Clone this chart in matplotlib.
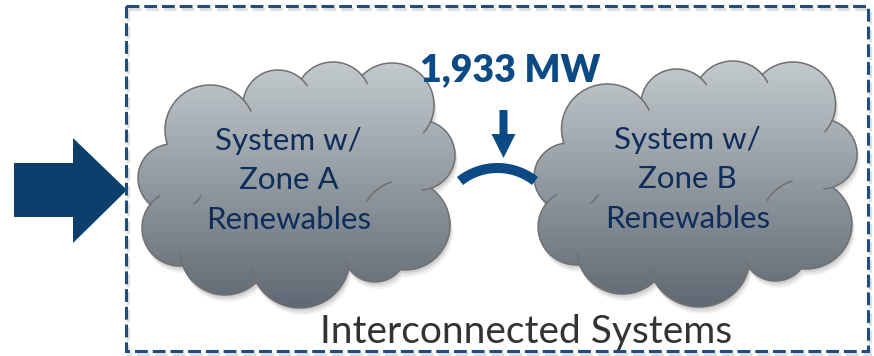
import numpy as np
import matplotlib.pyplot as plt
from matplotlib.patches import Polygon, Rectangle
from matplotlib.colors import to_rgb

# diagram content
flow_mw = 1933
zone_names = ["A", "B"]
cloud_labels = [f"System w/\nZone {z}\nRenewables" for z in zone_names]
frame_label = "Interconnected Systems"

NAVY = "#0c3f6c"
BLUE = "#0b4a85"
TEXT_NAVY = "#0f2d5a"
FONT = "Lato"

# cloud bumps in local pixel units (y down): cx, cy, r, inner stub (deg, <0 = at start)
BUMPS = [
    (72, 68, 45, 18),
    (140, 43, 35, 15),
    (195, 38, 38, 15),
    (254, 43, 42, 18),
    (282, 93, 35, 15),
    (267, 163, 45, -40),
    (237, 188, 32, 15),
    (162, 196, 50, 18),
    (87, 188, 45, 15),
    (42, 166, 38, 20),
    (34, 116, 34, 18),
]
CORE = (158, 123, 95)
BASE_W, BASE_H = 317, 246


def cloud_outline(n=1440):
    cx, cy, _ = CORE
    circles = [b[:3] for b in BUMPS] + [CORE]
    th = np.linspace(0, 2 * np.pi, n, endpoint=False)
    d = np.column_stack([np.cos(th), np.sin(th)])
    best = np.zeros(n)
    for x, y, r in circles:
        p = np.array([x - cx, y - cy])
        b = d @ p
        disc = b ** 2 - p @ p + r ** 2
        t = np.where(disc >= 0, b + np.sqrt(np.clip(disc, 0, None)), 0)
        best = np.maximum(best, t)
    return cx + best * d[:, 0], cy + best * d[:, 1]


def cloud_stubs():
    circles = [b[:3] for b in BUMPS] + [CORE]
    out = []
    a = np.arange(360)
    for i, (x, y, r, ext) in enumerate(BUMPS):
        px = x + r * np.cos(np.radians(a))
        py = y + r * np.sin(np.radians(a))
        inside = np.zeros(360, bool)
        for j, (x2, y2, r2) in enumerate(circles):
            if j != i:
                inside |= (px - x2) ** 2 + (py - y2) ** 2 < r2 ** 2
        vis = ~inside
        if ext > 0:
            ks = [k for k in range(360) if vis[k] and not vis[(k + 1) % 360]]
            if not ks:
                continue
            ang = np.radians(np.linspace(ks[0], ks[0] + ext, 30))
        else:
            ks = [k for k in range(360) if vis[k] and not vis[(k - 1) % 360]]
            if not ks:
                continue
            ang = np.radians(np.linspace(ks[0] + ext, ks[0], 30))
        out.append((x + r * np.cos(ang), y + r * np.sin(ang)))
    return out


def draw_cloud(ax, x0, y0, w, h, label):
    sx, sy = w / BASE_W, h / BASE_H
    ox, oy = cloud_outline()
    pts = np.column_stack([x0 + ox * sx, y0 + oy * sy])

    # soft drop shadow
    for k, a in [(7, 0.05), (5, 0.06), (3, 0.08)]:
        ax.add_patch(Polygon(pts + [k * 0.4, k], closed=True, fc="k", ec="none",
                             alpha=a, zorder=1))

    body = Polygon(pts, closed=True, fc="none", ec="#707070", lw=1.1, zorder=3)
    ax.add_patch(body)

    top, bot = np.array(to_rgb("#c3cace")), np.array(to_rgb("#5f6973"))
    t = np.linspace(0, 1, 256)[:, None, None]
    grad = top + (bot - top) * t
    im = ax.imshow(grad, extent=(x0, x0 + w, y0 + h, y0), aspect="auto",
                   interpolation="bilinear", zorder=2)
    im.set_clip_path(body)

    for xs, ys in cloud_stubs():
        ax.plot(x0 + xs * sx, y0 + ys * sy, color="#707070", lw=1.1, zorder=3)

    ax.text(x0 + w * 0.475, y0 + h * 0.48, label, ha="center", va="center",
            fontsize=22.5, color=TEXT_NAVY, family=FONT, linespacing=1.5, zorder=4)


fig = plt.figure(figsize=(8.74, 3.56), dpi=100)
ax = fig.add_axes([0, 0, 1, 1])

# dashed frame around the interconnected systems
ax.add_patch(Rectangle((127.5, 8.5), 742, 345, fill=False, ec="k", alpha=0.12,
                       lw=2.2, linestyle=(0, (4.2, 1.6)), zorder=0))
ax.add_patch(Rectangle((126, 6), 742, 345, fill=False, ec="#1c4f80",
                       lw=2.2, linestyle=(0, (4.2, 1.6)), zorder=5))

# input arrow on the left
ax.add_patch(Polygon([(14, 163), (73, 163), (73, 138), (127, 190), (73, 243),
                      (73, 217), (14, 217)], closed=True, fc=NAVY, ec="none", zorder=4))

draw_cloud(ax, 138, 62, 317, 246, cloud_labels[0])
draw_cloud(ax, 534, 61, 323, 246, cloud_labels[1])

# tie line between the two systems
R, ccx, ccy = 60.6, 497.5, 228.6
half = np.arcsin(37.5 / R)
ang = np.linspace(-np.pi / 2 - half, -np.pi / 2 + half, 60)
ax.plot(ccx + R * np.cos(ang), ccy + R * np.sin(ang), color=BLUE, lw=7.2,
        solid_capstyle="butt", zorder=6)

# flow arrow and label
ax.add_patch(Polygon([(499.5, 110), (507.5, 110), (507.5, 134), (515.5, 134),
                      (503.5, 158), (491.5, 134), (499.5, 134)], closed=True,
                     fc=BLUE, ec="none", zorder=6))
ax.text(510, 81, f"{flow_mw:,} MW", ha="center", va="baseline", fontsize=27,
        fontweight="heavy", color=BLUE, family=FONT, zorder=6)

ax.text(526, 343, frame_label, ha="center", va="baseline", fontsize=28,
        color="#333333", family=FONT, zorder=6)

ax.set_xlim(0, 874)
ax.set_ylim(356, 0)
ax.axis("off")
fig.savefig("out.png", dpi=100)
